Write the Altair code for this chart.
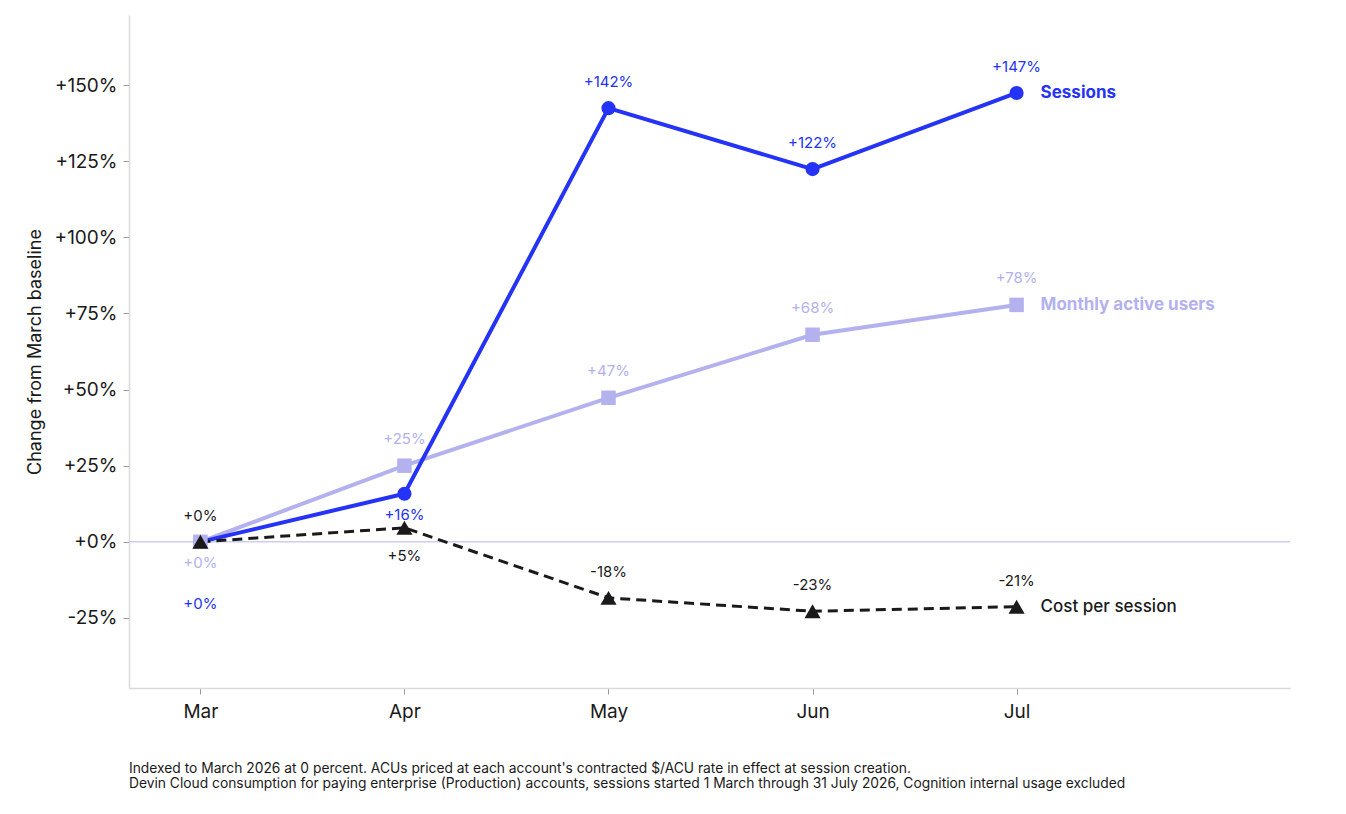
import altair as alt
import pandas as pd
import json

months = ["Mar", "Apr", "May", "Jun", "Jul"]
sessions = [0, 15.8, 142.4, 122.4, 147.4]
mau = [0, 25, 47.3, 68, 77.8]
cost = [0, 4.6, -18.4, -22.8, -21.3]
series_names = ["Sessions", "Monthly active users", "Cost per session"]
y_ticks = [-25, 0, 25, 50, 75, 100, 125, 150]
footnote = [
    "Indexed to March 2026 at 0 percent. ACUs priced at each account's contracted $/ACU rate in effect at session creation.",
    "Devin Cloud consumption for paying enterprise (Production) accounts, sessions started 1 March through 31 July 2026, Cognition internal usage excluded",
]

rows = []
for name, vals in zip(series_names, [sessions, mau, cost]):
    for i, (m, v) in enumerate(zip(months, vals)):
        rows.append({"series": name, "idx": i, "month": m, "value": v})
df = pd.DataFrame(rows)

FONT = "Inter"
BLUE = "#2433f5"
LAV = "#b3b1ee"
BLACK = "#1a1a1a"

x_enc = alt.X("idx:Q", scale=alt.Scale(domain=[-0.35, 5.34], nice=False, zero=False),
              axis=alt.Axis(values=list(range(len(months))),
                            labelExpr=f"{json.dumps(months)}[datum.value]",
                            title=None, grid=False, labelFontSize=19, labelColor=BLACK,
                            labelFont=FONT, labelPadding=8, tickSize=6, tickColor="#999999",
                            domainColor="#d9d9d9", domainWidth=1.5))
y_enc = alt.Y("value:Q", scale=alt.Scale(domain=[-48, 173], nice=False, zero=False),
              axis=alt.Axis(values=y_ticks,
                            labelExpr="replace(format(datum.value, '+d'), '\u2212', '-') + '%'",
                            title="Change from March baseline", titleFontSize=18,
                            titleFontWeight="normal", titleColor=BLACK, titleFont=FONT,
                            titlePadding=10, grid=False, labelFontSize=19, labelColor=BLACK,
                            labelFont=FONT, labelPadding=6, tickSize=6, tickColor="#999999",
                            domainColor="#d9d9d9", domainWidth=1.5))

base = alt.Chart(df).encode(x=x_enc, y=y_enc).transform_calculate(
    label="replace(format(datum.value, '+.0f'), '\u2212', '-') + '%'")


def sel(name):
    return base.transform_filter(alt.datum.series == name)


zero = alt.Chart(pd.DataFrame({"v": [0]})).mark_rule(color="#cfcdee", strokeWidth=1.5).encode(
    y=alt.Y("v:Q", scale=alt.Scale(domain=[-48, 173], nice=False, zero=False)))

line_mau = sel("Monthly active users").mark_line(color=LAV, strokeWidth=4)
line_ses = sel("Sessions").mark_line(color=BLUE, strokeWidth=4)
line_cost = sel("Cost per session").mark_line(color=BLACK, strokeWidth=3, strokeDash=[10, 6])

pt_ses = sel("Sessions").mark_point(shape="circle", filled=True, size=200, color=BLUE, opacity=1)
pt_mau = sel("Monthly active users").mark_point(shape="square", filled=True, size=210, color=LAV, opacity=1)
pt_cost = sel("Cost per session").mark_point(shape="triangle-up", filled=True, size=260, color=BLACK, opacity=1)


def lab(name, color, dy, cond):
    return sel(name).transform_filter(cond).mark_text(
        font=FONT, fontSize=15, color=color, dy=dy).encode(text="label:N")


labels = [
    lab("Sessions", BLUE, -26, alt.datum.idx >= 2),
    lab("Sessions", BLUE, 21, alt.datum.idx == 1),
    lab("Sessions", BLUE, 62, alt.datum.idx == 0),
    lab("Monthly active users", LAV, -27, alt.datum.idx >= 1),
    lab("Monthly active users", LAV, 21, alt.datum.idx == 0),
    lab("Cost per session", BLACK, -26, alt.datum.idx != 1),
    lab("Cost per session", BLACK, 28, alt.datum.idx == 1),
]

end_ses = sel("Sessions").transform_filter(alt.datum.idx == 4).mark_text(
    font=FONT, fontSize=17, fontWeight="bold", color=BLUE, align="left", dx=24).encode(text="series:N")
end_mau = sel("Monthly active users").transform_filter(alt.datum.idx == 4).mark_text(
    font=FONT, fontSize=17, fontWeight="bold", color=LAV, align="left", dx=24).encode(text="series:N")
end_cost = sel("Cost per session").transform_filter(alt.datum.idx == 4).mark_text(
    font=FONT, fontSize=17, fontWeight=500, color=BLACK, align="left", dx=24).encode(text="series:N")

chart = alt.layer(
    zero, line_mau, line_ses, line_cost, pt_ses, pt_mau, pt_cost, *labels, end_ses, end_mau, end_cost
).properties(
    width=1161, height=673,
    autosize=alt.AutoSizeParams(type="none"),
    padding={"left": 121, "top": 7, "right": 40, "bottom": 115},
    background="white",
    title=alt.TitleParams(text=footnote, orient="bottom", anchor="start", frame="group",
                          fontSize=13.8, font=FONT, fontWeight="normal", color=BLACK,
                          offset=41, lineHeight=15),
).configure_view(strokeWidth=0, stroke="transparent")

chart.save("out.html", embed_options={"renderer": "svg", "actions": False})
